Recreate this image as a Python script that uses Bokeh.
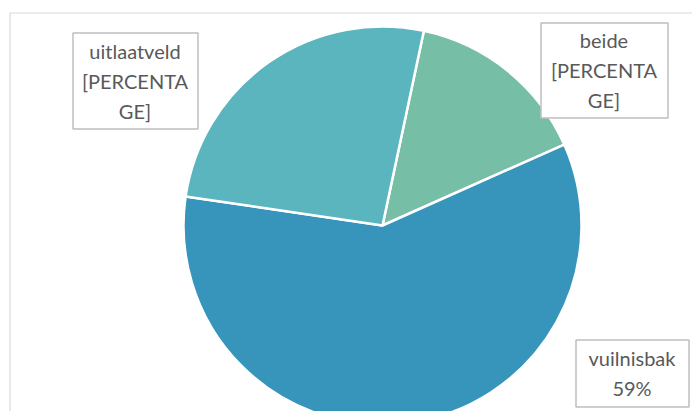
import numpy as np
from bokeh.plotting import figure
from bokeh.models import Range1d
from bokeh.core.properties import value
from bokeh.embed import file_html
from bokeh.resources import INLINE

# data
categories = ["beide", "vuilnisbak", "uitlaatveld"]
shares = [15, 59, 26]
label_lines = [["beide", "[PERCENTA", "GE]"],
               ["vuilnisbak", "59%"],
               ["uitlaatveld", "[PERCENTA", "GE]"]]
colors = ["#77BEA6", "#3795BC", "#5AB5BF"]

# layout (screen-like coordinates: x = px, y = 411 - py)
W, H = 692, 411
def Y(py):
    return H - py

p = figure(width=W, height=H, output_backend="svg", toolbar_location=None,
           x_range=Range1d(0, W), y_range=Range1d(0, H),
           min_border=0, outline_line_color=None)
p.axis.visible = False
p.grid.visible = False
p.background_fill_color = "white"
p.border_fill_color = "white"

# chart area border
p.quad(left=9.5, right=720, top=Y(12.5), bottom=Y(440), fill_color=None,
       line_color="#D9D9D9", line_width=1.2)

# pie
cx, cy, r = 382, Y(225), 199
first_angle = np.deg2rad(12)  # first slice begins 12 deg clockwise from top
frac = np.array(shares, dtype=float) / sum(shares)
cum = np.concatenate([[0], np.cumsum(frac)]) * 2 * np.pi
start = np.pi / 2 - first_angle - cum[:-1]
end = np.pi / 2 - first_angle - cum[1:]
p.wedge(x=cx, y=cy, radius=r, start_angle=end, end_angle=start,
        fill_color=colors, line_color="white", line_width=2.5)

# data labels
boxes = [(540, 667, 22, 117), (575, 688, 339, 406), (72, 197, 32, 128)]
for (l, rr, t, b), lines in zip(boxes, label_lines):
    p.quad(left=l + 0.5, right=rr + 0.5, top=Y(t + 0.5), bottom=Y(b + 0.5),
           fill_color="white", line_color="#BFBFBF", line_width=1.5)
    n = len(lines)
    mid = (t + b) / 2
    ys = [Y(mid + (i - (n - 1) / 2) * 30) for i in range(n)]
    p.text(x=[(l + rr) / 2] * n, y=ys, text=lines, text_align="center",
           text_baseline="middle", text_color="#595959",
           text_font=value("Lato"), text_font_size="20px")

open("out.html", "w").write(file_html(p, INLINE))
